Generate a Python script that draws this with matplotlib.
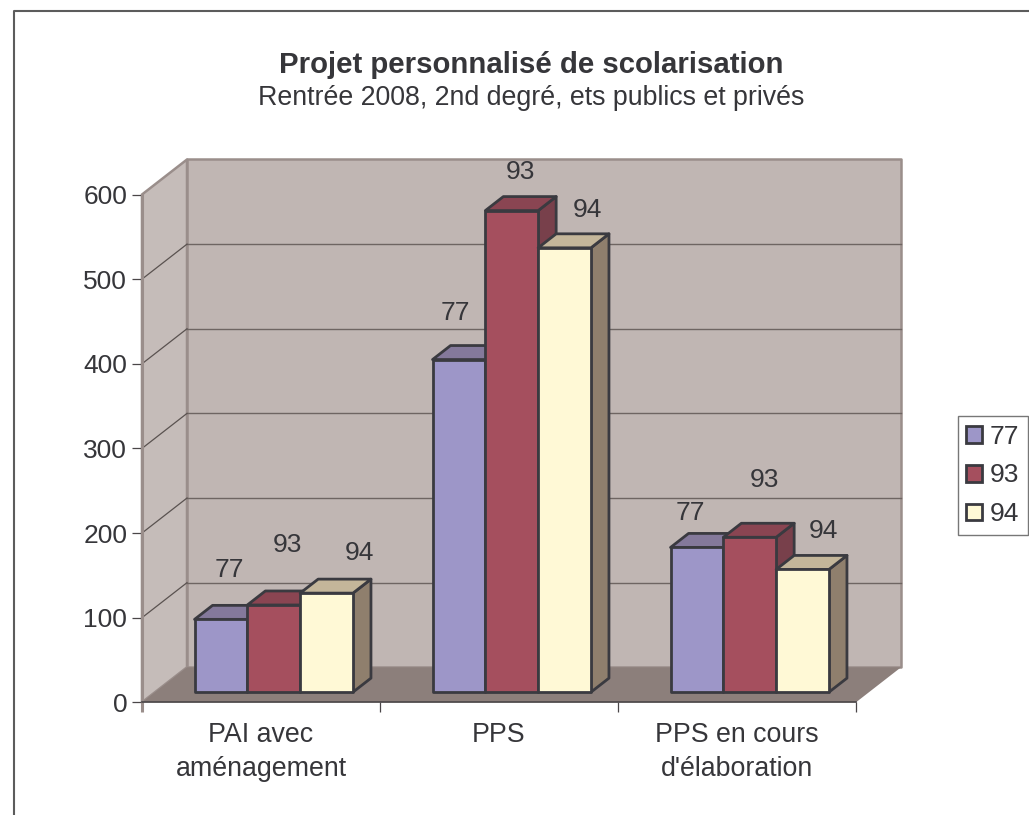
import matplotlib
matplotlib.use("Agg")
import matplotlib.pyplot as plt
from matplotlib.lines import Line2D
from matplotlib.patches import Patch, Polygon

plt.rcParams["font.family"] = ["Liberation Sans", "DejaVu Sans"]

# data
categories = ["PAI avec\naménagement", "PPS", "PPS en cours\nd'élaboration"]
series_names = ["77", "93", "94"]
values_77 = [86, 393, 171]
values_93 = [103, 569, 183]
values_94 = [117, 525, 145]
y_ticks = [0, 100, 200, 300, 400, 500, 600]

# style
front_colors = ["#9D96C8", "#A54F5E", "#FFF9D6"]
top_colors = ["#84799B", "#8A4552", "#C4B69A"]
side_colors = ["#6F6A92", "#78404B", "#8F7F6D"]
EDGE = "#3A3A40"
TEXT = "#36363A"
WALL = "#C0B6B3"
SIDE_WALL = "#C5BCB9"
FLOOR = "#8C7F7B"
WALL_EDGE = "#9A8E8B"

# label offsets in pixels, from the bar's top front corner centre (placed by hand in the original)
label_dx = [[8, 14, 33], [-4, 9, 23], [-7, 15, 21]]
label_dy = [[49, 60, 40], [47, 39, 38], [34, 57, 38]]

W, H = 1029, 815
fig = plt.figure(figsize=(W / 100, H / 100), dpi=100)

# axes = front plane of the 3D box
ax = fig.add_axes([142 / W, 1 - 702.3 / H, 714 / W, 507.8 / H])
ax.set_xlim(0, 3)
ax.set_ylim(0, 600)
ax.patch.set_visible(False)

# depth of the box in data units
DX = 45 / 238
DY = 35 / 0.8463


def proj(x, y, d):
    return (x + d * DX, y + d * DY)


def poly(points, color, edge="none", lw=0, z=1):
    p = Polygon(points, closed=True, facecolor=color, edgecolor=edge, linewidth=lw,
                joinstyle="round", clip_on=False, zorder=z)
    ax.add_patch(p)


# walls and floor
poly([proj(0, 0, 0), proj(0, 0, 1), proj(0, 600, 1), proj(0, 600, 0)], SIDE_WALL, WALL_EDGE, 1.8)
poly([proj(0, 0, 1), proj(3, 0, 1), proj(3, 600, 1), proj(0, 600, 1)], WALL, WALL_EDGE, 1.8)
poly([proj(0, 0, 0), proj(3, 0, 0), proj(3, 0, 1), proj(0, 0, 1)], FLOOR)

# gridlines on the back wall + left wall
for t in y_ticks[1:-1]:
    x1, y1 = proj(0, t, 1)
    x2, y2 = proj(3, t, 1)
    ax.plot([x1, x2], [y1, y2], color="#6E6562", lw=1.0, clip_on=False, zorder=1.5)
    x0, y0 = proj(0, t, 0)
    ax.plot([x0, x1], [y0, y1], color="#5A5250", lw=0.9, clip_on=False, zorder=1.5)

# bars
all_values = [values_77, values_93, values_94]
bar_w = 52.8 / 238
gap = 0.166
d_front = 0.29
d_back = 0.69
z = 3
for i in range(len(categories)):
    for j in range(len(series_names)):
        v = all_values[j][i]
        x0 = i + gap + j * bar_w
        x1 = x0 + bar_w
        side = [proj(x1, 0, d_front), proj(x1, 0, d_back), proj(x1, v, d_back), proj(x1, v, d_front)]
        top = [proj(x0, v, d_front), proj(x1, v, d_front), proj(x1, v, d_back), proj(x0, v, d_back)]
        front = [proj(x0, 0, d_front), proj(x1, 0, d_front), proj(x1, v, d_front), proj(x0, v, d_front)]
        poly(side, side_colors[j], EDGE, 2.0, z)
        poly(top, top_colors[j], EDGE, 2.0, z)
        poly(front, front_colors[j], EDGE, 2.0, z)
        z += 1
        fx, fy = proj((x0 + x1) / 2, v, d_front)
        ax.annotate(series_names[j], (fx, fy), xytext=(label_dx[i][j] * 0.72, label_dy[i][j] * 0.72),
                    textcoords="offset points", ha="center", va="center", fontsize=19,
                    color=TEXT, zorder=20, annotation_clip=False)

# axes
for s in ["top", "right"]:
    ax.spines[s].set_visible(False)
ax.spines["left"].set_color(WALL_EDGE)
ax.spines["left"].set_linewidth(2.2)
ax.spines["left"].set_bounds(0, 600)
ax.spines["left"].set_zorder(2)
ax.spines["bottom"].set_color("#4A4648")
ax.spines["bottom"].set_linewidth(1.2)
ax.spines["bottom"].set_zorder(2)

ax.set_yticks(y_ticks)
ax.tick_params(axis="y", length=7.2, width=0.9, color="#4A4648", labelsize=19, labelcolor=TEXT, pad=3.5)
ax.set_xticks([0, 1, 2, 3])
ax.set_xticklabels([])
ax.tick_params(axis="x", length=7.2, width=0.9, color="#4A4648")
ax.set_xticks([0.5, 1.5, 2.5], minor=True)
ax.set_xticklabels(categories, minor=True, fontsize=19.3, color=TEXT, linespacing=1.36)
ax.tick_params(axis="x", which="minor", length=0, pad=14.5)

# titles
fig.text(531 / W, 1 - 65 / H, "Projet personnalisé de scolarisation", ha="center", va="center",
         fontsize=21.2, fontweight="bold", color=TEXT)
fig.text(531 / W, 1 - 98 / H, "Rentrée 2008, 2nd degré, ets publics et privés", ha="center", va="center",
         fontsize=19.3, color=TEXT)

# outer frame, cut by the picture at right and bottom
fig.add_artist(Line2D([14 / W, 14 / W, 1], [0, 1 - 11 / H, 1 - 11 / H], color="#5C5C5C", lw=1.5,
                      transform=fig.transFigure))

# legend
handles = [Patch(facecolor=front_colors[k], edgecolor=EDGE, linewidth=2.0) for k in range(3)]
leg = fig.legend(handles, series_names, loc="upper left", bbox_to_anchor=(957.5 / W, 1 - 416 / H),
                 fontsize=19, frameon=True, fancybox=False, edgecolor="#777777", framealpha=1,
                 handlelength=0.6, handleheight=0.6, handletextpad=0.28, labelspacing=0.56,
                 borderpad=0.33, borderaxespad=0, labelcolor=TEXT)
leg.get_frame().set_linewidth(1.0)

# first x tick is part of the wall edge
first_tick = ax.xaxis.get_major_ticks()[0].tick1line
first_tick.set_markeredgecolor(WALL_EDGE)
first_tick.set_markeredgewidth(2.2)

fig.savefig("out.png", dpi=100)
